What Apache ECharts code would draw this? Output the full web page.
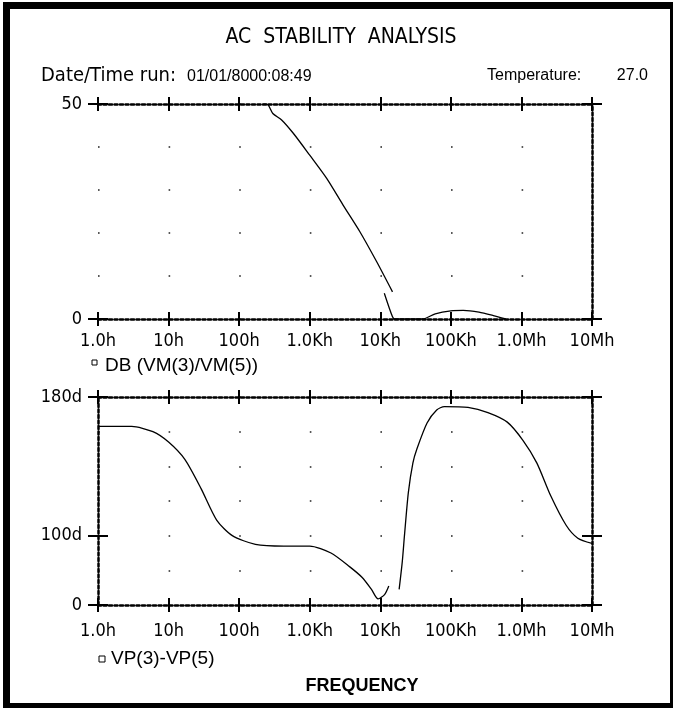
<!DOCTYPE html>
<html>
<head>
<meta charset="utf-8">
<script src="https://cdn.jsdelivr.net/npm/echarts@6/dist/echarts.min.js"></script>
<style>
html,body{margin:0;padding:0;background:#fff;}
#box{width:673px;height:708px;}
</style>
</head>
<body>
<div id="box"></div>
<script>
//刻度文字
var freqLabels = ['1.0h', '10h', '100h', '1.0Kh', '10Kh', '100Kh', '1.0Mh', '10Mh'];
var dbTicks = [0, 50];
var dbTickLabels = ['0', '50'];
var phaseTicks = [60, 100, 180];
var phaseTickLabels = ['0', '100d', '180d'];

//DB(VM(3)/VM(5))  [频率, dB]
var dbMain = [[220, 50], [257, 49.8], [300, 47.8], [400, 46.3], [585, 43.2], [1000, 38.1],
    [1740, 32.7], [2970, 26.5], [5140, 20.3], [8900, 13.3], [14900, 6.3]];
var dbTail = [[11400, 6], [14900, 0.5], [16000, 0], [40000, 0], [60000, 1.2], [100000, 1.9],
    [150000, 2], [250000, 1.6], [400000, 0.8], [600000, 0]];

//VP(3)-VP(5)  [频率, 度]
var phaseLow = [[1, 163], [3, 163], [6, 160], [10, 154], [17, 144], [29, 127], [48, 109], [80, 100],
    [170, 95], [430, 94], [1000, 94], [2000, 90], [3700, 82], [5500, 76], [7500, 69], [9300, 63.5],
    [11500, 66], [13200, 71]];
var phaseHigh = [[18500, 69], [20500, 85], [22000, 100], [25000, 125], [29000, 142], [33000, 150],
    [46000, 165], [63000, 172.5], [81000, 174.5], [175000, 174], [335000, 171], [630000, 165.5],
    [1050000, 155], [1650000, 142], [2600000, 123], [4300000, 106], [6300000, 98.5], [10000000, 95.5]];

var narrow = "'Liberation Sans Narrow', 'DejaVu Sans Condensed', 'Liberation Sans', sans-serif";
var sans = "'Liberation Sans', Arial, sans-serif";
var dotted = {color: '#000', width: 2.5, type: [3, 2.5]};
var tickStyle = {color: '#000', width: 2};

function xAxes(grid) {
    var base = {
        type: 'log', logBase: 10, min: 1, max: 1e7, gridIndex: grid,
        splitLine: {show: false},
        axisLabel: {show: false},
        axisLine: {show: false, onZero: false}
    };
    return [
        Object.assign({}, base, {
            position: 'bottom',
            axisLine: {show: true, onZero: false, lineStyle: dotted},
            axisTick: {inside: false, length: 7, lineStyle: tickStyle},
            axisLabel: {
                show: true, margin: grid === 0 ? 13 : 17, color: '#000',
                fontFamily: narrow, fontSize: 18,
                showMinLabel: true, showMaxLabel: true,
                formatter: function (v) { return freqLabels[Math.round(Math.log10(v))]; }
            }
        }),
        Object.assign({}, base, {position: 'bottom', axisTick: {inside: true, length: 7, lineStyle: tickStyle}}),
        Object.assign({}, base, {
            position: 'top',
            axisLine: {show: true, onZero: false, lineStyle: dotted},
            axisTick: {inside: false, length: 7, lineStyle: tickStyle}
        }),
        Object.assign({}, base, {position: 'top', axisTick: {inside: true, length: 7, lineStyle: tickStyle}})
    ];
}

function yAxes(grid, min, max, ticks, labels, step, leftLine) {
    var base = {
        type: 'value', min: min, max: max, interval: step, gridIndex: grid,
        splitLine: {show: false},
        axisLabel: {show: false},
        axisLine: {show: false, onZero: false}
    };
    var tk = {length: 10, lineStyle: tickStyle, customValues: ticks};
    return [
        Object.assign({}, base, {
            position: 'left',
            axisLine: {show: leftLine, onZero: false, lineStyle: dotted},
            axisTick: Object.assign({inside: false}, tk),
            axisLabel: {
                show: true, margin: 16, color: '#000', fontFamily: narrow, fontSize: 18,
                customValues: ticks,
                formatter: function (v) { return labels[ticks.indexOf(v)]; }
            }
        }),
        Object.assign({}, base, {position: 'left', axisTick: Object.assign({inside: true}, tk)}),
        Object.assign({}, base, {
            position: 'right',
            axisLine: {show: true, onZero: false, lineStyle: dotted},
            axisTick: Object.assign({inside: false}, tk)
        }),
        Object.assign({}, base, {position: 'right', axisTick: Object.assign({inside: true}, tk)}),
        //网格点
        Object.assign({}, base, {
            position: 'left', axisTick: {show: false},
            splitLine: {show: true, lineStyle: {color: '#222', width: 1.6, type: [1.6, 69]}}
        })
    ];
}

function curve(data, xi, yi) {
    return {
        type: 'line', data: data, xAxisIndex: xi, yAxisIndex: yi,
        showSymbol: false, smooth: 0.25, silent: true,
        lineStyle: {color: '#000', width: 1.3}
    };
}

var option = {
    backgroundColor: '#fff',
    animation: false,
    grid: [
        {left: 98, top: 104, width: 494, height: 215},
        {left: 98, top: 397, width: 494, height: 208}
    ],
    xAxis: xAxes(0).concat(xAxes(1)),
    yAxis: yAxes(0, 0, 50, dbTicks, dbTickLabels, 10, false)
        .concat(yAxes(1, 60, 180, phaseTicks, phaseTickLabels, 20, true)),
    series: [
        curve(dbMain, 0, 0),
        curve(dbTail, 0, 0),
        curve(phaseLow, 4, 5),
        curve(phaseHigh, 4, 5)
    ],
    graphic: [
        //外框
        {type: 'rect', shape: {x: 3, y: 2, width: 7, height: 706}, style: {fill: '#000'}},
        {type: 'rect', shape: {x: 3, y: 2, width: 670, height: 7}, style: {fill: '#000'}},
        {type: 'rect', shape: {x: 670, y: 2, width: 3, height: 706}, style: {fill: '#000'}},
        {type: 'rect', shape: {x: 3, y: 703, width: 670, height: 5}, style: {fill: '#000'}},
        {type: 'text', x: 341, y: 38, style: {text: 'AC  STABILITY  ANALYSIS', fill: '#000',
            font: '21px ' + narrow, textAlign: 'center', textVerticalAlign: 'middle'}},
        {type: 'text', x: 41, y: 76, style: {text: 'Date/Time run:', fill: '#000',
            font: '20px ' + narrow, textVerticalAlign: 'middle'}},
        {type: 'text', x: 187, y: 77, style: {text: '01/01/8000:08:49', fill: '#000',
            font: '16px ' + sans, textVerticalAlign: 'middle'}},
        {type: 'text', x: 487, y: 76, style: {text: 'Temperature:', fill: '#000',
            font: '16px ' + sans, textVerticalAlign: 'middle'}},
        {type: 'text', x: 648, y: 76, style: {text: '27.0', fill: '#000',
            font: '16px ' + sans, textAlign: 'right', textVerticalAlign: 'middle'}},
        //图例
        {type: 'rect', shape: {x: 92, y: 360, width: 5, height: 5}, style: {fill: 'none', stroke: '#000', lineWidth: 1}},
        {type: 'text', x: 105, y: 366, style: {text: 'DB (VM(3)/VM(5))', fill: '#000',
            font: '19px ' + sans, textVerticalAlign: 'middle'}},
        {type: 'rect', shape: {x: 99, y: 656, width: 6, height: 6}, style: {fill: 'none', stroke: '#000', lineWidth: 1}},
        {type: 'text', x: 111, y: 659, style: {text: 'VP(3)-VP(5)', fill: '#000',
            font: '19px ' + sans, textVerticalAlign: 'middle'}},
        {type: 'text', x: 362, y: 686, style: {text: 'FREQUENCY', fill: '#000',
            font: 'bold 18px ' + sans, textAlign: 'center', textVerticalAlign: 'middle'}}
    ]
};

var chart = echarts.init(document.getElementById('box'));
chart.setOption(option);
</script>
</body>
</html>
